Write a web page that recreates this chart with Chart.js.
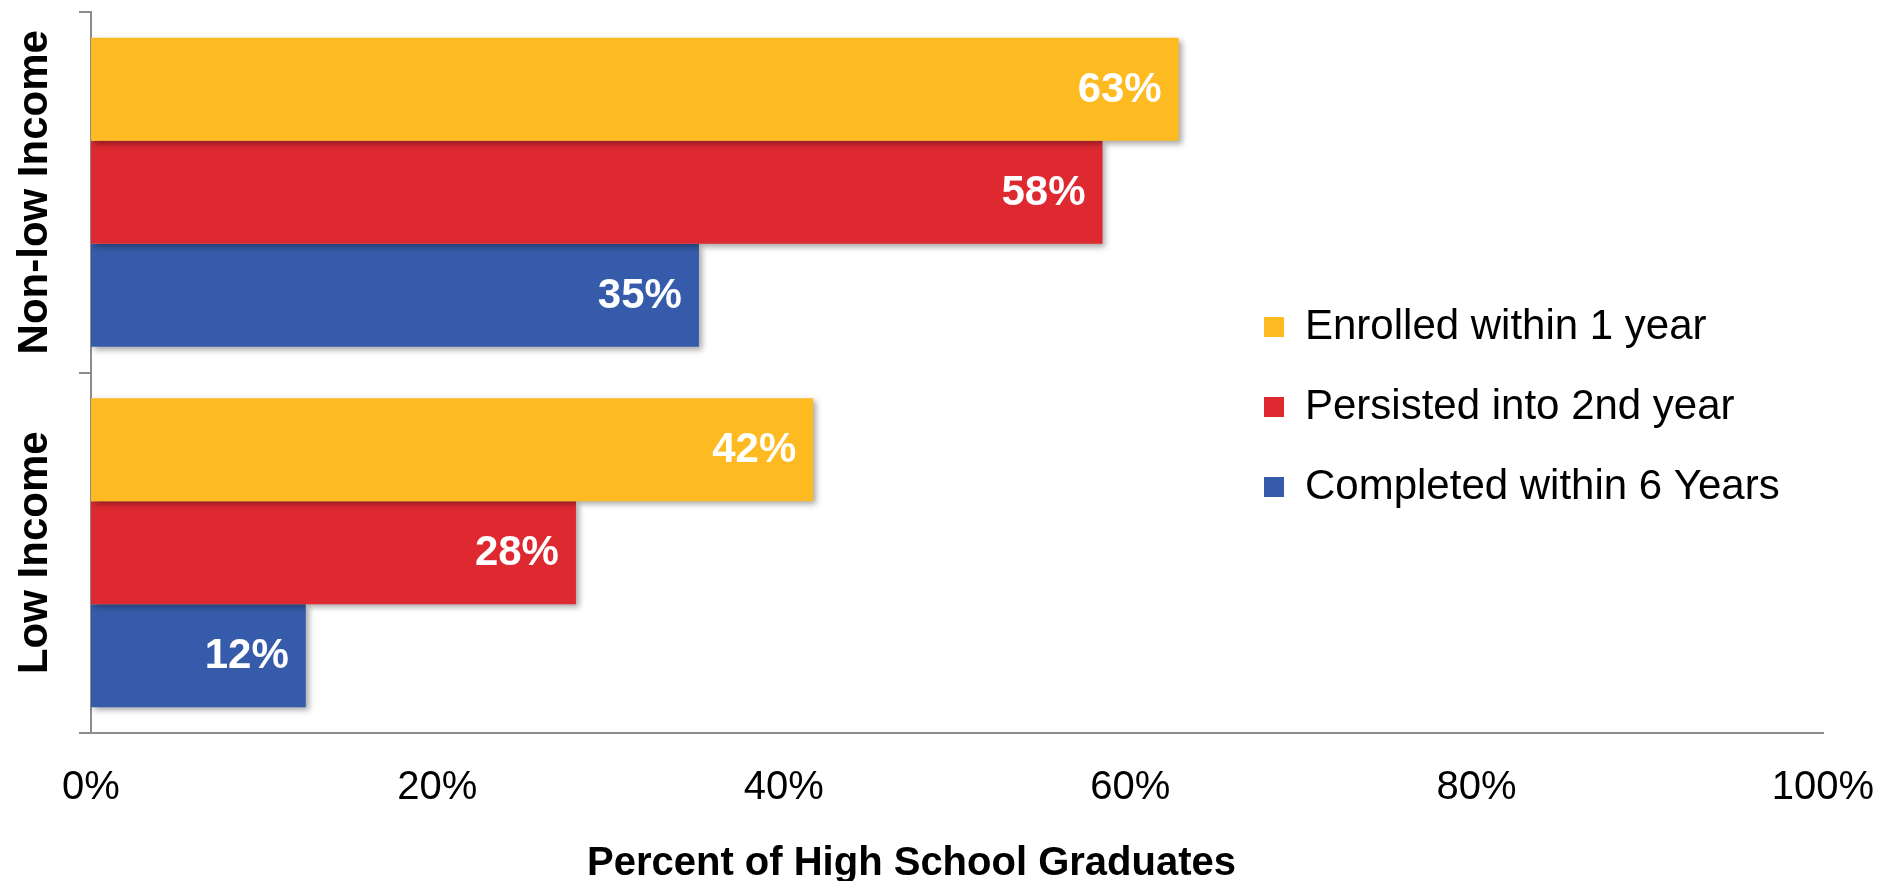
<!DOCTYPE html>
<html>
<head>
<meta charset="utf-8">
<script src="https://cdn.jsdelivr.net/npm/chart.js@4/dist/chart.umd.min.js"></script>
<style>
  html, body { margin: 0; padding: 0; background: #ffffff; }
  canvas { display: block; }
</style>
</head>
<body>
<canvas id="c" width="1881" height="881"></canvas>
<script>
const categories = ['Non-low Income', 'Low Income'];
const seriesNames = ['Enrolled within 1 year', 'Persisted into 2nd year', 'Completed within 6 Years'];
const enrolled = [62.8, 41.7];
const persisted = [58.4, 28.0];
const completed = [35.1, 12.4];
const xTicks = [0, 20, 40, 60, 80, 100];
const xTitle = 'Percent of High School Graduates';

const colors = ['#FDBA21', '#DE2931', '#375BAB'];
const FONT = "'Liberation Sans', Arial, sans-serif";
const AXIS_GRAY = '#8c8c8c';

const shadowPlugin = {
  id: 'barShadow',
  beforeDatasetsDraw(chart) {
    const ctx = chart.ctx;
    ctx.save();
    ctx.shadowColor = 'rgba(0,0,0,0.35)';
    ctx.shadowBlur = 6;
    ctx.shadowOffsetX = 3;
    ctx.shadowOffsetY = 3;
  },
  afterDatasetsDraw(chart) {
    chart.ctx.restore();
  }
};

const labelsPlugin = {
  id: 'valueLabels',
  afterDatasetsDraw(chart) {
    const ctx = chart.ctx;
    ctx.save();
    ctx.fillStyle = '#ffffff';
    ctx.font = 'bold 42px ' + FONT;
    ctx.textAlign = 'right';
    ctx.textBaseline = 'middle';
    chart.data.datasets.forEach((ds, di) => {
      const meta = chart.getDatasetMeta(di);
      meta.data.forEach((bar, i) => {
        ctx.fillText(Math.round(ds.data[i]) + '%', bar.x - 17, bar.y + 1);
      });
    });
    ctx.restore();
  }
};

const axisTextPlugin = {
  id: 'axisText',
  afterDraw(chart) {
    const ctx = chart.ctx;
    const ys = chart.scales.y;
    const xs = chart.scales.x;
    ctx.save();
    ctx.fillStyle = '#000000';
    ctx.font = 'bold 42px ' + FONT;
    ctx.textAlign = 'center';
    ctx.textBaseline = 'alphabetic';
    categories.forEach((cat, i) => {
      const y = ys.getPixelForValue(i);
      ctx.save();
      ctx.translate(ys.left + 47, y);
      ctx.rotate(-Math.PI / 2);
      ctx.fillText(cat, 0, 0);
      ctx.restore();
    });
    ctx.font = 'bold 40px ' + FONT;
    ctx.textBaseline = 'middle';
    ctx.fillText(xTitle, xs.right / 2, xs.bottom - 17);
    ctx.restore();
  }
};

const legendPlace = {
  id: 'legendPlace',
  afterLayout(chart) {
    const lg = chart.legend;
    if (!lg) return;
    const w = lg.width;
    lg.left = 1226;
    lg.right = lg.left + w;
    lg.top = 268;
    lg.bottom = lg.top + 400;
  }
};

new Chart(document.getElementById('c'), {
  type: 'bar',
  data: {
    labels: categories,
    datasets: [
      { label: seriesNames[0], data: enrolled, backgroundColor: colors[0] },
      { label: seriesNames[1], data: persisted, backgroundColor: colors[1] },
      { label: seriesNames[2], data: completed, backgroundColor: colors[2] }
    ]
  },
  options: {
    indexAxis: 'y',
    responsive: false,
    devicePixelRatio: 1,
    animation: false,
    categoryPercentage: 0.857,
    barPercentage: 1.0,
    layout: { padding: { top: 12, right: 58, bottom: 0, left: 0 } },
    scales: {
      x: {
        min: 0,
        max: 100,
        afterBuildTicks(scale) {
          scale.ticks = xTicks.map(v => ({ value: v }));
        },
        afterFit(scale) {
          scale.height = 148;
          scale.paddingLeft = 0;
          scale.paddingRight = 0;
        },
        grid: { display: false, drawTicks: false },
        border: { display: true, color: AXIS_GRAY, width: 2 },
        ticks: {
          padding: 31,
          color: '#000000',
          font: { family: FONT, size: 40 },
          maxRotation: 0,
          callback: (v) => v + '%'
        }
      },
      y: {
        type: 'category',
        afterFit(scale) {
          scale.width = 91;
          scale.paddingTop = 0;
          scale.paddingBottom = 0;
        },
        grid: {
          display: true,
          offset: true,
          drawOnChartArea: false,
          drawTicks: true,
          tickLength: 12,
          color: AXIS_GRAY,
          lineWidth: 2
        },
        border: { display: true, color: AXIS_GRAY, width: 2 },
        ticks: { display: false }
      }
    },
    plugins: {
      legend: {
        position: 'chartArea',
        align: 'start',
        labels: {
          boxWidth: 20,
          boxHeight: 20,
          padding: 38,
          color: '#000000',
          font: { family: FONT, size: 42 }
        }
      },
      tooltip: { enabled: false }
    }
  },
  plugins: [legendPlace, shadowPlugin, labelsPlugin, axisTextPlugin]
});
</script>
</body>
</html>
